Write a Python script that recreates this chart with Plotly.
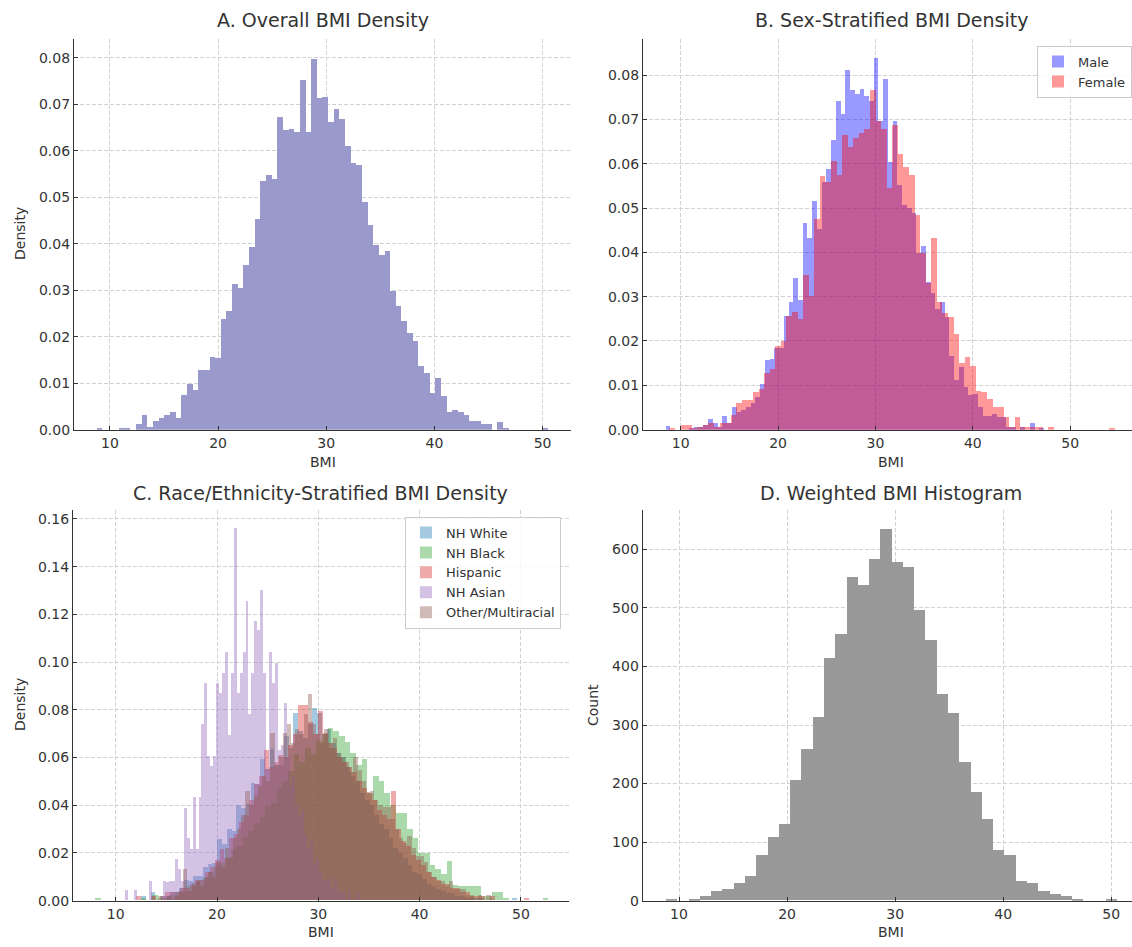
import numpy as np
import plotly.graph_objects as go

# ---------------- Panel A: overall BMI density (80 bins) ----------------
A_bin_start, A_bin_width = 8.77, 0.522
A_density = [0.0004, 0, 0, 0, 0.0004, 0.0004, 0, 0.0013, 0.0032, 0.0007,
             0.0020, 0.0025, 0.0032, 0.0039, 0.0025, 0.0075, 0.0098, 0.0085, 0.0128, 0.0128,
             0.0158, 0.0154, 0.0238, 0.0255, 0.0314, 0.0306, 0.0354, 0.0393, 0.0453, 0.0535,
             0.0549, 0.0539, 0.0674, 0.0646, 0.0647, 0.0640, 0.0752, 0.0640, 0.0799, 0.0715,
             0.0717, 0.0663, 0.0690, 0.0670, 0.0610, 0.0575, 0.0570, 0.0491, 0.0441, 0.0398,
             0.0377, 0.0386, 0.0299, 0.0267, 0.0235, 0.0208, 0.0192, 0.0137, 0.0123, 0.0080,
             0.0111, 0.0073, 0.0038, 0.0043, 0.0038, 0.0032, 0.0020, 0.0020, 0.0013, 0.0013,
             0, 0.0018, 0.0004, 0, 0, 0, 0, 0, 0, 0.0004]

# ---------------- Panel B: sex-stratified ----------------
B_male_start, B_male_width = 8.44, 0.486
B_male = [0.0009, 0, 0, 0, 0, 0.0004, 0.0007, 0.0007, 0.0011, 0.0024,
          0.0016, 0.0007, 0.0031, 0.0015, 0.0051, 0.0041, 0.0045, 0.0052, 0.0060, 0.0075,
          0.0104, 0.0157, 0.0159, 0.0184, 0.0184, 0.0257, 0.0289, 0.0343, 0.0293, 0.0468,
          0.0433, 0.0517, 0.0453, 0.0559, 0.0589, 0.0654, 0.0742, 0.0712, 0.0811, 0.0768,
          0.0758, 0.0770, 0.0753, 0.0743, 0.0839, 0.0697, 0.0792, 0.0605, 0.0696, 0.0553,
          0.0507, 0.0500, 0.0490, 0.0400, 0.0416, 0.0334, 0.0310, 0.0274, 0.0288, 0.0254,
          0.0168, 0.0112, 0.0142, 0.0098, 0.0078, 0.0082, 0.0052, 0.0031, 0.0031, 0.0037,
          0.0030, 0.0030, 0.0007, 0.0007, 0, 0.0007, 0, 0.0015, 0, 0.0004]
B_female_start, B_female_width = 8.84, 0.572
B_female = [0.0004, 0, 0.0011, 0.0011, 0.0004, 0.0007, 0.0011, 0.0015, 0.0007, 0.0015,
            0.0015, 0.0034, 0.0060, 0.0067, 0.0067, 0.0086, 0.0093, 0.0128, 0.0138, 0.0190,
            0.0201, 0.0257, 0.0266, 0.0250, 0.0349, 0.0302, 0.0475, 0.0574, 0.0559, 0.0606,
            0.0576, 0.0665, 0.0638, 0.0658, 0.0670, 0.0680, 0.0766, 0.0697, 0.0680, 0.0546,
            0.0688, 0.0623, 0.0593, 0.0576, 0.0485, 0.0400, 0.0332, 0.0433, 0.0289, 0.0265,
            0.0254, 0.0216, 0.0151, 0.0164, 0.0145, 0.0089, 0.0086, 0.0071, 0.0051, 0.0052,
            0.0030, 0.0007, 0.0030, 0.0007, 0.0007, 0.0007, 0.0007, 0, 0.0007, 0,
            0, 0, 0, 0, 0, 0, 0, 0, 0, 0.0004]

# ---------------- Panel C: race/ethnicity-stratified ----------------
C_white_start, C_white_width = 12.5, 0.47
C_white = [0.0020, 0, 0.0035, 0, 0.0017, 0.0017, 0.0035, 0.0035, 0.0052, 0.0087,
           0.0083, 0.0104, 0.0104, 0.0139, 0.0153, 0.0157, 0.0257, 0.0236, 0.0300, 0.0290,
           0.0400, 0.0386, 0.0403, 0.0493, 0.0490, 0.0592, 0.0550, 0.0633, 0.0570, 0.0570,
           0.0690, 0.0640, 0.0788, 0.0710, 0.0680, 0.0740, 0.0806, 0.0785, 0.0700, 0.0720,
           0.0660, 0.0620, 0.0600, 0.0560, 0.0520, 0.0500, 0.0450, 0.0420, 0.0400, 0.0360,
           0.0320, 0.0300, 0.0260, 0.0220, 0.0200, 0.0180, 0.0150, 0.0120, 0.0110, 0.0090,
           0.0070, 0.0060, 0.0050, 0.0040, 0.0030, 0.0030, 0.0020, 0.0020, 0.0010, 0.0015,
           0.0010, 0.0010, 0, 0.0005, 0, 0, 0, 0, 0.0012, 0]
C_black_start, C_black_width = 8.0, 0.559
C_black = [0.0012, 0, 0, 0, 0, 0, 0, 0, 0.0012, 0,
           0.0024, 0.0012, 0.0012, 0.0024, 0.0036, 0.0036, 0.0060, 0.0072, 0.0084, 0.0096,
           0.0120, 0.0145, 0.0157, 0.0181, 0.0217, 0.0229, 0.0265, 0.0290, 0.0326, 0.0350,
           0.0398, 0.0410, 0.0470, 0.0495, 0.0543, 0.0615, 0.0580, 0.0640, 0.0615, 0.0670,
           0.0700, 0.0725, 0.0710, 0.0690, 0.0665, 0.0620, 0.0570, 0.0595, 0.0450, 0.0520,
           0.0500, 0.0450, 0.0400, 0.0365, 0.0365, 0.0300, 0.0260, 0.0200, 0.0200, 0.0150,
           0.0130, 0.0110, 0.0165, 0.0065, 0.0060, 0.0060, 0.0060, 0.0060, 0.0020, 0.0020,
           0.0035, 0.0035, 0.0012, 0, 0, 0, 0, 0, 0, 0.0012]
C_hisp_start, C_hisp_width = 12.0, 0.485
C_hisp = [0.0017, 0, 0, 0.0017, 0, 0.0017, 0.0035, 0.0035, 0.0035, 0.0052,
          0.0052, 0.0070, 0.0087, 0.0087, 0.0120, 0.0139, 0.0170, 0.0215, 0.0180, 0.0260,
          0.0280, 0.0330, 0.0360, 0.0420, 0.0490, 0.0520, 0.0632, 0.0560, 0.0580, 0.0610,
          0.0600, 0.0650, 0.0700, 0.0819, 0.0819, 0.0750, 0.0700, 0.0794, 0.0701, 0.0660,
          0.0640, 0.0600, 0.0580, 0.0560, 0.0540, 0.0500, 0.0470, 0.0451, 0.0420, 0.0380,
          0.0360, 0.0340, 0.0458, 0.0300, 0.0250, 0.0229, 0.0190, 0.0170, 0.0150, 0.0120,
          0.0100, 0.0087, 0.0070, 0.0070, 0.0052, 0.0052, 0.0035, 0.0035, 0.0017, 0.0017,
          0.0017, 0, 0.0017, 0, 0, 0, 0, 0, 0, 0.0012]
C_asian_start, C_asian_width = 10.93, 0.2898
C_asian = [0.0042, 0, 0, 0.0042, 0, 0, 0, 0, 0.0083, 0,
           0, 0, 0, 0.0083, 0.0076, 0.0083, 0.0083, 0.0174, 0.0132, 0.0083,
           0.0389, 0.0260, 0.0215, 0.0433, 0.0215, 0.0433, 0.0739, 0.0910, 0.0604, 0.0565,
           0.0604, 0.0910, 0.0868, 0.0954, 0.1042, 0.0694, 0.0954, 0.1560, 0.0868, 0.0954,
           0.1042, 0.1257, 0.0780, 0.0954, 0.1171, 0.1132, 0.1300, 0.0954, 0.0550, 0.1042,
           0.0910, 0.0996, 0.0630, 0.0650, 0.0826, 0.0600, 0.0480, 0.0520, 0.0400, 0.0350,
           0.0380, 0.0280, 0.0220, 0.0250, 0.0150, 0.0180, 0.0120, 0.0080, 0.0090, 0.0090,
           0.0050, 0.0090, 0.0050, 0.0035, 0.0035, 0, 0.0035, 0, 0, 0.0035]
C_other_start, C_other_width = 14.2, 0.41
C_other = [0.0020, 0, 0.0020, 0, 0.0020, 0.0040, 0.0132, 0.0040, 0.0060, 0.0080,
           0.0060, 0.0100, 0.0120, 0.0100, 0.0160, 0.0140, 0.0220, 0.0180, 0.0260, 0.0300,
           0.0360, 0.0460, 0.0400, 0.0440, 0.0480, 0.0520, 0.0500, 0.0701, 0.0569, 0.0600,
           0.0701, 0.0740, 0.0660, 0.0720, 0.0700, 0.0780, 0.0864, 0.0740, 0.0700, 0.0660,
           0.0720, 0.0640, 0.0681, 0.0620, 0.0600, 0.0580, 0.0540, 0.0603, 0.0549, 0.0500,
           0.0454, 0.0460, 0.0420, 0.0400, 0.0390, 0.0390, 0.0340, 0.0300, 0.0260, 0.0240,
           0.0271, 0.0220, 0.0188, 0.0188, 0.0160, 0.0120, 0.0100, 0.0083, 0.0083, 0.0060,
           0.0083, 0.0049, 0.0049, 0.0049, 0.0024, 0.0024, 0, 0.0024, 0, 0.0024]
C_labels = ["NH White", "NH Black", "Hispanic", "NH Asian", "Other/Multiracial"]

# ---------------- Panel D: weighted counts (40 bins) ----------------
D_bin_start, D_bin_width = 8.77, 1.044
D_counts = [2, 0, 3, 7, 17, 19, 30, 42, 78, 108,
            131, 206, 259, 314, 414, 456, 553, 539, 584, 635,
            579, 570, 497, 445, 352, 320, 237, 186, 139, 86,
            78, 33, 30, 17, 11, 8, 2, 0, 0, 2]

x_ticks = [10, 20, 30, 40, 50]

W, H = 1132, 947
FONT = "DejaVu Sans"
TXT = "#333333"


def centers(start, width, vals):
    return start + width * (np.arange(len(vals)) + 0.5)


def bar(start, width, vals, color, xa, ya, name=None, legend=None):
    return go.Bar(x=centers(start, width, vals), y=vals, width=width,
                  marker=dict(color=color, line=dict(width=0)),
                  xaxis=xa, yaxis=ya, name=name,
                  showlegend=legend is not None,
                  legend=legend if legend else "legend", hoverinfo="skip")


fig = go.Figure()
fig.add_trace(bar(A_bin_start, A_bin_width, A_density, "#9999cc", "x", "y"))
fig.add_trace(bar(B_male_start, B_male_width, B_male, "rgba(0,0,255,0.4)", "x2", "y2", "Male", "legend"))
fig.add_trace(bar(B_female_start, B_female_width, B_female, "rgba(255,0,0,0.4)", "x2", "y2", "Female", "legend"))

C_series = [(C_white_start, C_white_width, C_white, "rgba(31,119,180,0.4)"),
            (C_black_start, C_black_width, C_black, "rgba(44,160,44,0.4)"),
            (C_hisp_start, C_hisp_width, C_hisp, "rgba(214,39,40,0.4)"),
            (C_asian_start, C_asian_width, C_asian, "rgba(148,103,189,0.4)"),
            (C_other_start, C_other_width, C_other, "rgba(140,86,75,0.4)")]
for lab, (s, w, v, c) in zip(C_labels, C_series):
    fig.add_trace(bar(s, w, v, c, "x3", "y3", lab, "legend2"))

fig.add_trace(bar(D_bin_start, D_bin_width, D_counts, "#999999", "x4", "y4"))


def px_x(p):
    return p / W


def px_y(p):
    return 1 - p / H


grid = dict(showgrid=True, gridcolor="#d2d2d2", gridwidth=0.8, griddash="4px,2px",
            zeroline=False, showline=True, linecolor="#333333", linewidth=1.2,
            ticks="inside", ticklen=4, tickwidth=1, tickcolor="#333333",
            tickfont=dict(family=FONT, size=14, color=TXT))


def xax(d0, d1, rng, anchor):
    return dict(domain=[d0, d1], range=rng, anchor=anchor, tickvals=x_ticks, **grid)


def yax(d0, d1, rng, anchor, dtick, fmt):
    return dict(domain=[d0, d1], range=rng, anchor=anchor, dtick=dtick, tick0=0,
                tickformat=fmt, **grid)


top = (px_y(433.3), px_y(39))
bot = (px_y(908.3), px_y(514.5))

fig.update_layout(
    width=W, height=H, margin=dict(l=0, r=0, t=0, b=0),
    paper_bgcolor="white", plot_bgcolor="white", barmode="overlay", bargap=0,
    font=dict(family=FONT, color=TXT),
    xaxis=xax(px_x(74), px_x(571), [6.68, 52.63], "y"),
    yaxis=yax(top[0], top[1], [0, 0.0841], "x", 0.01, ".2f"),
    xaxis2=xax(px_x(643), 1.0, [6.13, 56.34], "y2"),
    yaxis2=yax(top[0], top[1], [0, 0.0882], "x2", 0.01, ".2f"),
    xaxis3=xax(px_x(73), px_x(568.5), [5.78, 54.7], "y3"),
    yaxis3=yax(bot[0], bot[1], [0, 0.1637], "x3", 0.02, ".2f"),
    xaxis4=xax(px_x(642.7), 1.0, [6.64, 51.92], "y4"),
    yaxis4=yax(bot[0], bot[1], [0, 667], "x4", 100, "d"),
    legend=dict(x=px_x(1037), y=px_y(46), xanchor="left", yanchor="top",
                bgcolor="rgba(255,255,255,0.85)", bordercolor="#cccccc", borderwidth=1,
                font=dict(family=FONT, size=13, color=TXT), tracegroupgap=0),
    legend2=dict(x=px_x(405), y=px_y(521), xanchor="left", yanchor="top",
                 bgcolor="rgba(255,255,255,0.85)", bordercolor="#cccccc", borderwidth=1,
                 font=dict(family=FONT, size=13, color=TXT), tracegroupgap=0),
)

ann = []


def text(x, y, s, size, angle=0):
    ann.append(dict(x=px_x(x), y=px_y(y), xref="paper", yref="paper", text=s,
                    showarrow=False, textangle=angle, xanchor="center", yanchor="middle",
                    font=dict(family=FONT, size=size, color=TXT)))


text(322.5, 20, "A. Overall BMI Density", 19)
text(891, 20, "B. Sex-Stratified BMI Density", 19)
text(320.7, 497, "C. Race/Ethnicity-Stratified BMI Density", 19)
text(891, 497, "D. Weighted BMI Histogram", 19)
text(322.5, 466, "BMI", 14)
text(891, 466, "BMI", 14)
text(320.7, 940, "BMI", 14)
text(891, 940, "BMI", 14)
text(20, 236, "Density", 14, -90)
text(20, 711, "Density", 14, -90)
text(593, 711, "Count", 14, -90)
fig.update_layout(annotations=ann)

fig.write_html("out.html")
